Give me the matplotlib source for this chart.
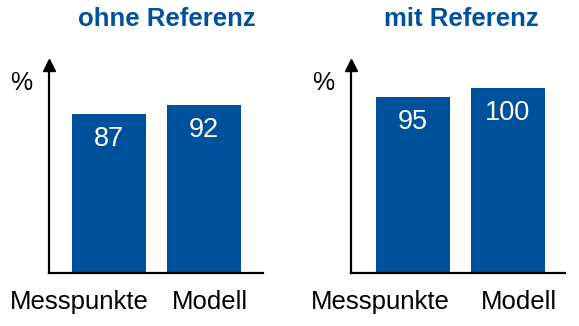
import matplotlib.pyplot as plt

plt.rcParams['font.family'] = ['Liberation Sans', 'DejaVu Sans']

BLUE = '#00519c'

categories = ['Messpunkte', 'Modell']
titles = ['ohne Referenz', 'mit Referenz']
values_ohne = [87, 92]
values_mit = [95, 100]

W, H = 579, 326
fig = plt.figure(figsize=(W / 100, H / 100), dpi=100)


def panel(left, right, top, bottom, xlim, ytop, values, title, title_x, label_x):
    ax = fig.add_axes([left / W, 1 - bottom / H, (right - left) / W, (bottom - top) / H])
    ax.bar([0, 1], values, width=0.78, color=BLUE)
    ax.set_xlim(*xlim)
    ax.set_ylim(0, ytop)
    ax.set_xticks([])
    ax.set_yticks([])
    for s in ['top', 'right']:
        ax.spines[s].set_visible(False)
    for s in ['left', 'bottom']:
        ax.spines[s].set_linewidth(1.6)
    # arrow head on the y axis
    ax.plot([0], [0.985], marker='^', markersize=8, color='black',
            transform=ax.transAxes, clip_on=False)
    for i, v in enumerate(values):
        ax.annotate(str(v), (i, v), xytext=(0, -25), textcoords='offset pixels',
                    ha='center', va='center', color='white', fontsize=19.5)
    for x, c in zip(label_x, categories):
        ax.text(x, -29 / (bottom - top), c, transform=ax.get_xaxis_transform(),
                ha='center', va='center', fontsize=18.5)
    ax.text(-28 / (right - left), 0.9, '%', transform=ax.transAxes,
            ha='center', va='center', fontsize=18)
    fig.text(title_x / W, 1 - 19 / H, title, ha='center', va='center',
             fontsize=18.5, fontweight='bold', color=BLUE)
    return ax


panel(49, 263, 62, 273, (-0.63, 1.62), 211 / 1.83, values_ohne,
      titles[0], 167, [-0.31, 1.06])
panel(351, 565, 62, 273, (-0.65, 1.6), 211 / 1.85, values_mit,
      titles[1], 461, [-0.34, 1.12])

fig.savefig('out.png', dpi=100)
